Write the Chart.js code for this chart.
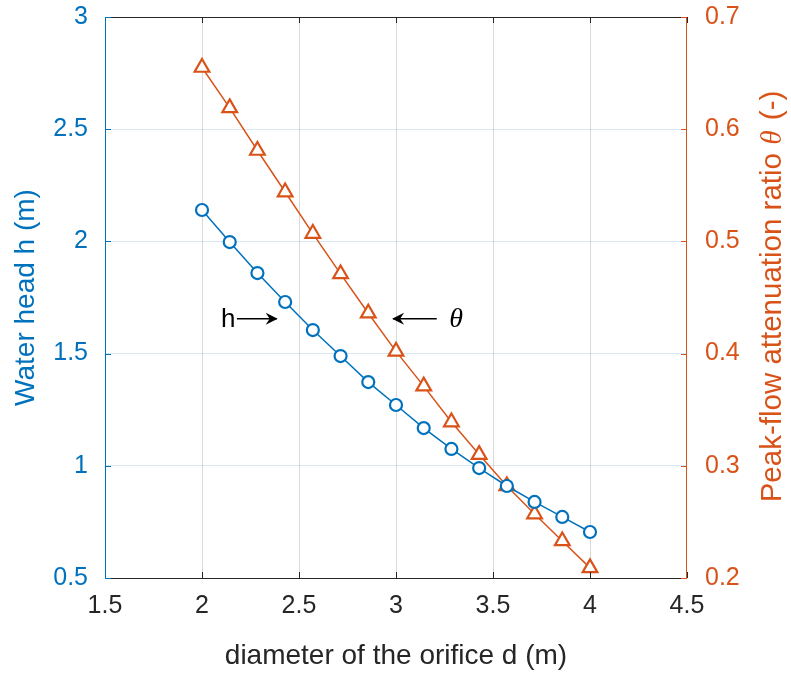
<!DOCTYPE html>
<html>
<head>
<meta charset="utf-8">
<script src="https://cdn.jsdelivr.net/npm/chart.js@4.4.0/dist/chart.umd.min.js"></script>
<style>
  html, body { margin: 0; padding: 0; background: #fff; }
  #wrap { width: 791px; height: 673px; position: relative; }
</style>
</head>
<body>
<div id="wrap"><canvas id="chart"></canvas></div>
<script>
// orifice diameters d (m)
const diameters = [2, 2.1429, 2.2857, 2.4286, 2.5714, 2.7143, 2.8571, 3, 3.1429, 3.2857, 3.4286, 3.5714, 3.7143, 3.8571, 4];
// water head h (m), left axis
const waterHead = [2.14, 1.997, 1.859, 1.73, 1.605, 1.489, 1.373, 1.271, 1.168, 1.075, 0.99, 0.91, 0.839, 0.772, 0.705];
// peak-flow attenuation ratio theta, right axis
const attenuation = [0.655, 0.619, 0.581, 0.544, 0.507, 0.471, 0.436, 0.402, 0.371, 0.339, 0.31, 0.282, 0.257, 0.233, 0.209];

const xTicks = [1.5, 2, 2.5, 3, 3.5, 4, 4.5];
const leftTicks = [0.5, 1, 1.5, 2, 2.5, 3];
const rightTicks = [0.2, 0.3, 0.4, 0.5, 0.6, 0.7];

const BLUE = "#0072BD";
const ORANGE = "#D95319";
const DARK = "#262626";
const FONT = "'Liberation Sans', Arial, sans-serif";
const SERIF_IT = "'Liberation Serif', 'Times New Roman', serif";

function fixTicks(list) {
    return function (scale) {
        scale.ticks = list.map((v) => ({ value: v }));
    };
}

const fmt = (v) => String(Number(v.toFixed(2)));

// frame, inward ticks, axis titles and the h / theta arrows
const decorations = {
    id: "decorations",
    afterDraw(chart) {
        const ctx = chart.ctx;
        const a = chart.chartArea;
        const sx = chart.scales.x, sy = chart.scales.y, sy1 = chart.scales.y1;
        const tl = 6;
        ctx.save();
        ctx.lineWidth = 1;

        // x ticks (bottom and top) and frame
        ctx.strokeStyle = DARK;
        ctx.beginPath();
        xTicks.forEach((v) => {
            const px = Math.round(sx.getPixelForValue(v)) + 0.5;
            ctx.moveTo(px, a.bottom); ctx.lineTo(px, a.bottom - tl);
            ctx.moveTo(px, a.top); ctx.lineTo(px, a.top + tl);
        });
        ctx.moveTo(a.left, a.bottom + 0.5); ctx.lineTo(a.right, a.bottom + 0.5);
        ctx.moveTo(a.left, a.top + 0.5); ctx.lineTo(a.right, a.top + 0.5);
        ctx.stroke();

        ctx.strokeStyle = BLUE;
        ctx.beginPath();
        ctx.moveTo(a.left + 0.5, a.top); ctx.lineTo(a.left + 0.5, a.bottom + 1);
        leftTicks.forEach((v) => {
            const py = Math.round(sy.getPixelForValue(v)) + 0.5;
            ctx.moveTo(a.left, py); ctx.lineTo(a.left + tl, py);
        });
        ctx.stroke();

        ctx.strokeStyle = ORANGE;
        ctx.beginPath();
        ctx.moveTo(a.right - 0.5, a.top); ctx.lineTo(a.right - 0.5, a.bottom + 1);
        rightTicks.forEach((v) => {
            const py = Math.round(sy1.getPixelForValue(v)) + 0.5;
            ctx.moveTo(a.right, py); ctx.lineTo(a.right - tl, py);
        });
        ctx.stroke();

        // x title
        ctx.fillStyle = DARK;
        ctx.font = "28px " + FONT;
        ctx.textAlign = "center";
        ctx.textBaseline = "middle";
        ctx.fillText("diameter of the orifice d (m)", (a.left + a.right) / 2, 656);

        // left title
        const midY = (a.top + a.bottom) / 2;
        ctx.save();
        ctx.translate(26, midY);
        ctx.rotate(-Math.PI / 2);
        ctx.fillStyle = BLUE;
        ctx.fillText("Water head h (m)", 0, 0);
        ctx.restore();

        // right title, mixed fonts
        ctx.save();
        ctx.translate(773, midY);
        ctx.rotate(-Math.PI / 2);
        ctx.fillStyle = ORANGE;
        const p1 = "Peak-flow attenuation ratio ", p2 = "\u03B8", p3 = " (-)";
        const fNorm = "29.5px " + FONT, fIt = "italic 29.5px " + SERIF_IT;
        ctx.font = fNorm; const w1 = ctx.measureText(p1).width, w3 = ctx.measureText(p3).width;
        ctx.font = fIt; const w2 = ctx.measureText(p2).width;
        const x0 = -(w1 + w2 + w3) / 2;
        ctx.textAlign = "left";
        ctx.font = fNorm; ctx.fillText(p1, x0, 0);
        ctx.font = fIt; ctx.fillText(p2, x0 + w1, 0);
        ctx.font = fNorm; ctx.fillText(p3, x0 + w1 + w2 + 2, 0);
        ctx.restore();

        // annotations
        function arrow(x1, x2, y) {
            const p1x = sx.getPixelForValue(x1), p2x = sx.getPixelForValue(x2);
            const py = sy.getPixelForValue(y);
            ctx.strokeStyle = "#000";
            ctx.fillStyle = "#000";
            ctx.lineWidth = 1.5;
            ctx.beginPath();
            ctx.moveTo(p1x, py); ctx.lineTo(p2x, py);
            ctx.stroke();
            const dir = p2x > p1x ? 1 : -1;
            ctx.beginPath();
            ctx.moveTo(p2x + dir * 1, py);
            ctx.lineTo(p2x - dir * 11, py - 6);
            ctx.lineTo(p2x - dir * 7, py);
            ctx.lineTo(p2x - dir * 11, py + 6);
            ctx.closePath();
            ctx.fill();
        }
        arrow(2.18, 2.385, 1.655);
        arrow(3.21, 2.985, 1.655);
        ctx.fillStyle = "#000";
        ctx.textAlign = "center";
        ctx.font = "26px " + FONT;
        ctx.fillText("h", sx.getPixelForValue(2.135), sy.getPixelForValue(1.655) + 1);
        ctx.font = "italic 28px " + SERIF_IT;
        ctx.fillText("\u03B8", sx.getPixelForValue(3.31), sy.getPixelForValue(1.655) + 1);
        ctx.restore();
    },
};

const ctx = document.getElementById("chart").getContext("2d");
new Chart(ctx, {
    type: "line",
    data: {
        datasets: [
            {
                label: "h",
                data: diameters.map((d, i) => ({ x: d, y: waterHead[i] })),
                yAxisID: "y",
                borderColor: BLUE,
                borderWidth: 1.5,
                pointStyle: "circle",
                pointRadius: 6,
                pointBorderWidth: 2.2,
                pointBackgroundColor: "#fff",
                pointBorderColor: BLUE,
            },
            {
                label: "theta",
                data: diameters.map((d, i) => ({ x: d, y: attenuation[i] })),
                yAxisID: "y1",
                borderColor: ORANGE,
                borderWidth: 1.5,
                pointStyle: "triangle",
                pointRadius: 8.5,
                pointBorderWidth: 2.2,
                pointBackgroundColor: "#fff",
                pointBorderColor: ORANGE,
            },
        ],
    },
    options: {
        responsive: true,
        maintainAspectRatio: false,
        animation: false,
        layout: { padding: { top: 17, left: 0, right: 0, bottom: 0 } },
        plugins: { legend: { display: false }, tooltip: { enabled: false } },
        scales: {
            x: {
                type: "linear",
                min: 1.5,
                max: 4.5,
                afterBuildTicks: fixTicks(xTicks),
                afterFit: (s) => { s.height = 95; s.paddingLeft = 0; s.paddingRight = 0; },
                border: { display: false },
                grid: {
                    drawTicks: false,
                    color: (c) => (c.tick && (c.tick.value === 1.5 || c.tick.value === 4.5) ? "rgba(0,0,0,0)" : "rgba(38,38,38,0.17)"),
                },
                ticks: { color: DARK, font: { family: FONT, size: 25 }, padding: 13, callback: fmt, maxRotation: 0 },
            },
            y: {
                position: "left",
                min: 0.5,
                max: 3,
                afterBuildTicks: fixTicks(leftTicks),
                afterFit: (s) => { s.width = 105; s.paddingTop = 0; s.paddingBottom = 0; },
                border: { display: false },
                grid: {
                    drawTicks: false,
                    color: (c) => (c.tick && (c.tick.value === 0.5 || c.tick.value === 3) ? "rgba(0,0,0,0)" : "rgba(0,114,189,0.16)"),
                },
                ticks: { color: BLUE, font: { family: FONT, size: 25 }, padding: 17, callback: fmt },
            },
            y1: {
                position: "right",
                min: 0.2,
                max: 0.7,
                afterBuildTicks: fixTicks(rightTicks),
                afterFit: (s) => { s.width = 104; s.paddingTop = 0; s.paddingBottom = 0; },
                border: { display: false },
                grid: { drawOnChartArea: false, drawTicks: false },
                ticks: { color: ORANGE, font: { family: FONT, size: 25 }, padding: 18, callback: fmt },
            },
        },
    },
    plugins: [decorations],
});
</script>
</body>
</html>
